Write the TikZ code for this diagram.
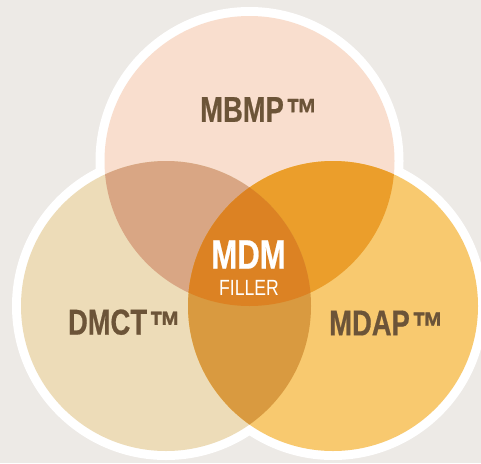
\documentclass[tikz,border=0pt]{standalone}
\usepackage{fontspec}
\newfontfamily\vennfont{Liberation Sans}[FakeStretch=0.8]
\newfontfamily\vennbold{Liberation Sans Bold}[FakeStretch=0.76, FakeBold=0.6]

\definecolor{bgcol}{RGB}{237,234,230}
\definecolor{topcol}{RGB}{249,222,206}
\definecolor{leftcol}{RGB}{237,220,184}
\definecolor{rightcol}{RGB}{248,201,111}
\definecolor{tlcol}{RGB}{217,166,132}
\definecolor{trcol}{RGB}{235,158,43}
\definecolor{lrcol}{RGB}{217,154,64}
\definecolor{midcol}{RGB}{220,130,35}
\definecolor{textcol}{RGB}{108,84,56}

\tikzset{
  setname/.style={inner sep=0pt, text=textcol, font=\vennbold\fontsize{36}{38}\selectfont}
}
\newcommand{\tmark}{\hspace{2pt}\raisebox{-6pt}{\fontsize{42}{42}\selectfont ™}}

\begin{document}
\begin{tikzpicture}[x=1pt,y=-1pt]
            \fill[bgcol] (0,0) rectangle (481,463);
            \useasboundingbox (0,0) rectangle (481,463);

            \coordinate (ctop) at (249.5,161);
            \coordinate (cleft) at (166,306);
            \coordinate (cright) at (333,306);

            % white rim
            \fill[white] (ctop) circle[radius=154pt];
            \fill[white] (cleft) circle[radius=154pt];
            \fill[white] (cright) circle[radius=154pt];

            % the three sets
            \fill[topcol] (ctop) circle[radius=145pt];
            \fill[leftcol] (cleft) circle[radius=145pt];
            \fill[rightcol] (cright) circle[radius=145pt];

            % overlaps
            \begin{scope}
                \clip (ctop) circle[radius=145pt];
                \fill[tlcol] (cleft) circle[radius=145pt];
                \fill[trcol] (cright) circle[radius=145pt];
            \end{scope}
            \begin{scope}
                \clip (cleft) circle[radius=145pt];
                \fill[lrcol] (cright) circle[radius=145pt];
            \end{scope}
            \begin{scope}
                \clip (ctop) circle[radius=145pt];
                \clip (cleft) circle[radius=145pt];
                \fill[midcol] (cright) circle[radius=145pt];
            \end{scope}

            \node[setname] (mbmp) at (259,112.5) {MBMP\tmark};
            \node[setname] (dmct) at (124.5,325) {DMCT\tmark};
            \node[setname] (mdap) at (386.5,326) {MDAP\tmark};

            \node[inner sep=0pt, text=white, font=\vennbold\fontsize{41}{43}\selectfont] (mdm) at (248.5,254.5) {MDM};
            \node[inner sep=0pt, text=white, font=\vennfont\fontsize{22}{24}\selectfont] (filler) at (249,288) {FILLER};
        \end{tikzpicture}
\end{document}
